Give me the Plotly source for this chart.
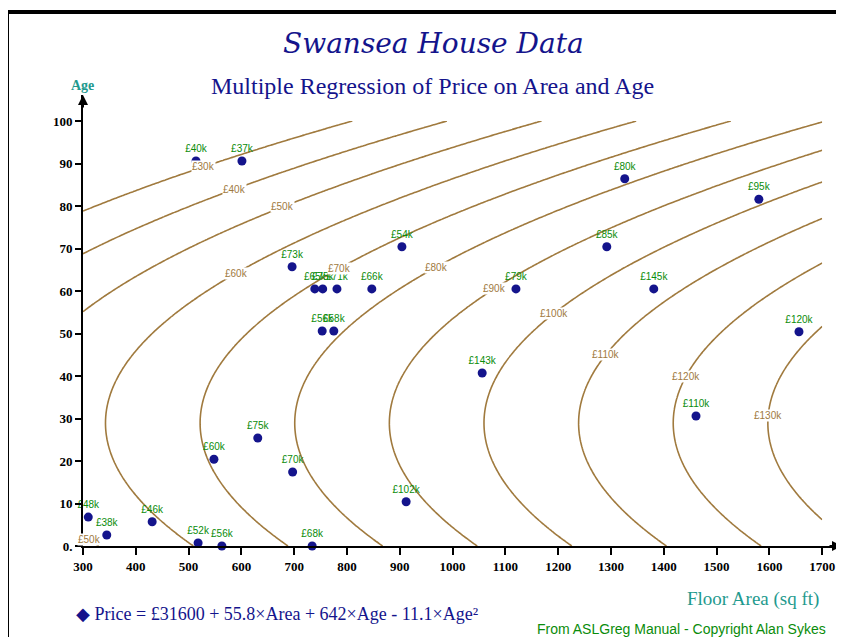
import numpy as np
import plotly.graph_objects as go

# ---------------- data ----------------
# regression coefficients: Price = b0 + b1*Area + b2*Age + b3*Age^2
b0, b1, b2, b3 = 31600.0, 55.8, 642.0, -11.1

# observed houses
house_area = [514, 601, 1326, 1580, 696, 739, 754, 781, 847, 904, 1120, 1292, 1381,
              753, 775, 1656, 1056, 1461, 631, 548, 697, 912, 310, 345, 431, 518, 563, 734]
house_age = [90.6, 90.6, 86.4, 81.6, 65.7, 60.5, 60.5, 60.5, 60.5, 70.4, 60.5, 70.4, 60.5,
             50.6, 50.6, 50.4, 40.7, 30.6, 25.4, 20.4, 17.4, 10.4, 6.8, 2.6, 5.7, 0.7, 0.0, 0.0]
house_price_k = [40, 37, 80, 95, 73, 65, 75, 71, 66, 54, 79, 85, 145,
                 56, 58, 120, 143, 110, 75, 60, 70, 102, 48, 38, 46, 52, 56, 68]

# contour levels (price, £k) and where their labels sit (age)
contour_levels_k = [30, 40, 50, 60, 70, 80, 90, 100, 110, 120, 130]
label_levels_k = [30, 40, 50, 50, 60, 70, 80, 90, 100, 110, 120, 130]
label_ages = [89.2, 84.0, 79.8, 1.5, 64.2, 65.4, 65.6, 60.5, 54.8, 45.0, 40.0, 30.6]

x_ticks = list(range(300, 1701, 100))
y_ticks = list(range(0, 101, 10))

# ---------------- styling ----------------
W, H = 844, 637
OFF = 8  # page body margin of the html page
# plot area in window pixels
PL, PR, PT, PB = 83, 842, 95, 546
ML, MT = PL - OFF, PT - OFF
MR = W - (PR - OFF)
MB = H - (PB - OFF)
XR = [300, 300 + (PR - PL) / 0.528]
YR = [0, (PB - PT) / 4.25]
BROWN = "#a07a3e"
NAVY = "#14148c"
GREEN = "#0a8c0a"
TEAL = "#1f9a8e"
SERIF = "Liberation Serif"

pw = PR - PL
ph = PB - PT


def px2paper(px, py):
    return (px - PL) / pw, (PB - py) / ph


# contour surface from the regression equation
area_grid = np.linspace(300, 1700, 281)
age_grid = np.linspace(0, 100, 201)
A, G = np.meshgrid(area_grid, age_grid)
Z = b0 + b1 * A + b2 * G + b3 * G ** 2

fig = go.Figure()
fig.add_trace(go.Contour(
    x=area_grid, y=age_grid, z=Z,
    contours=dict(start=contour_levels_k[0] * 1000, end=contour_levels_k[-1] * 1000,
                  size=10000, coloring="none", showlabels=False),
    line=dict(color=BROWN, width=1.6),
    showscale=False, hoverinfo="skip",
))

fig.add_trace(go.Scatter(
    x=house_area, y=house_age, mode="markers+text",
    marker=dict(symbol="circle", size=9, color=NAVY),
    text=[f"£{p}k" for p in house_price_k],
    textposition="top center",
    textfont=dict(family="Liberation Sans", size=10, color=GREEN),
    cliponaxis=False, hoverinfo="skip",
))

annotations = []
# contour labels placed on their contour lines
for lev, ag in zip(label_levels_k, label_ages):
    ar = (lev * 1000 - b0 - b2 * ag - b3 * ag ** 2) / b1
    annotations.append(dict(x=ar, y=ag, xref="x", yref="y", text=f"£{lev}k",
                            showarrow=False, bgcolor="white", borderpad=0,
                            font=dict(family="Liberation Sans", size=10, color=BROWN)))

# axis arrows
annotations.append(dict(x=XR[1], y=0, xref="x", yref="y", ax=-14, ay=0, text="",
                        showarrow=True, arrowhead=2, arrowsize=1, arrowwidth=2, arrowcolor="black"))
annotations.append(dict(x=300, y=YR[1], xref="x", yref="y", ax=0, ay=14, text="",
                        showarrow=True, arrowhead=2, arrowsize=1, arrowwidth=2, arrowcolor="black"))


def txt(text, px, py, size, color, family=SERIF, xanchor="center", italic=False, bold=False):
    x, y = px2paper(px, py)
    if bold:
        text = f"<b>{text}</b>"
    if italic:
        text = f"<i>{text}</i>"
    annotations.append(dict(x=x, y=y, xref="paper", yref="paper", text=text, showarrow=False,
                            xanchor=xanchor, yanchor="middle",
                            font=dict(family=family, size=size, color=color)))


txt("Swansea House Data", 433, 43, 28, NAVY, family="DejaVu Serif", italic=True)
txt("Multiple Regression of Price on Area and Age", 432, 86, 24, NAVY)
txt("Age", 82, 86, 14, TEAL, bold=True)
txt("Floor Area (sq ft)", 753, 599, 19, TEAL)
txt("◆ Price = £31600 + 55.8×Area + 642×Age - 11.1×Age²", 74, 614, 18, NAVY, xanchor="left")
txt("From ASLGreg Manual - Copyright Alan Sykes", 535, 629, 14, GREEN,
    family="Liberation Sans", xanchor="left")

fx0, fy0 = px2paper(7, 12)
fx1, fy1 = px2paper(870, 680)
shapes = [dict(type="rect", xref="paper", yref="paper", x0=fx0, y0=fy1, x1=fx1, y1=fy0,
               line=dict(color="black", width=4), fillcolor="rgba(0,0,0,0)", layer="above")]

axis_common = dict(showgrid=False, zeroline=False, showline=True, linecolor="black", linewidth=2,
                   ticks="outside", tickcolor="black", tickwidth=2,
                   tickfont=dict(family=SERIF, size=13, color="black", weight="bold"),
                   mirror=False)

fig.update_layout(
    width=W, height=H, autosize=False,
    margin=dict(l=ML, r=MR, t=MT, b=MB, pad=0),
    paper_bgcolor="white", plot_bgcolor="white",
    showlegend=False,
    xaxis=dict(range=XR, tickvals=x_ticks, ticklen=7, **axis_common),
    yaxis=dict(range=YR, tickvals=y_ticks, ticktext=[str(v) if v else "0." for v in y_ticks],
               ticklen=6, **axis_common),
    annotations=annotations,
    shapes=shapes,
)

fig.write_html("out.html")
